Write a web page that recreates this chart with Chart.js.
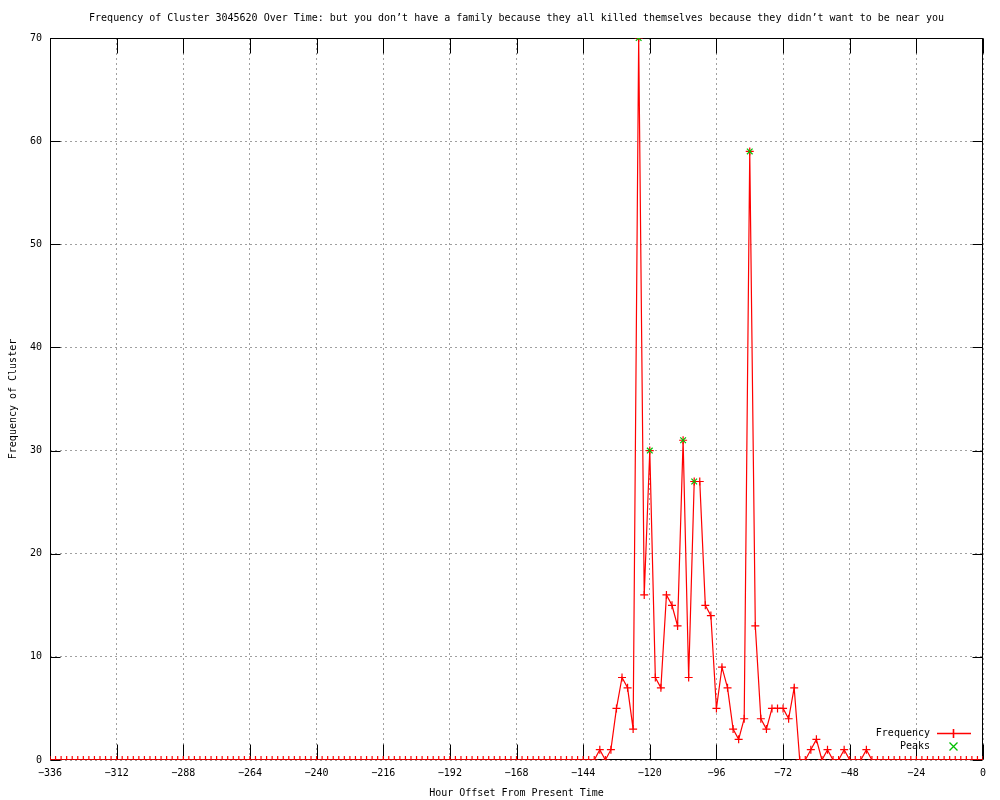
<!DOCTYPE html>
<html>
<head>
<meta charset="utf-8">
<script src="https://cdn.jsdelivr.net/npm/chart.js@4.4.1/dist/chart.umd.min.js"></script>
<style>
  html, body { margin: 0; padding: 0; background: #ffffff; }
  canvas { display: block; }
</style>
</head>
<body>
<canvas id="c" width="1000" height="800"></canvas>
<script>
// ---- data ----
const titleText = "Frequency of Cluster 3045620 Over Time: but you don\u2019t have a family because they all killed themselves because they didn\u2019t want to be near you";
const xAxisTitle = "Hour Offset From Present Time";
const yAxisTitle = "Frequency of Cluster";

const hours = [
  -336,-334,-332,-330,-328,-326,-324,-322,-320,-318,-316,-314,
  -312,-310,-308,-306,-304,-302,-300,-298,-296,-294,-292,-290,
  -288,-286,-284,-282,-280,-278,-276,-274,-272,-270,-268,-266,
  -264,-262,-260,-258,-256,-254,-252,-250,-248,-246,-244,-242,
  -240,-238,-236,-234,-232,-230,-228,-226,-224,-222,-220,-218,
  -216,-214,-212,-210,-208,-206,-204,-202,-200,-198,-196,-194,
  -192,-190,-188,-186,-184,-182,-180,-178,-176,-174,-172,-170,
  -168,-166,-164,-162,-160,-158,-156,-154,-152,-150,-148,-146,
  -144,-142,-140,-138,-136,-134,-132,-130,-128,-126,-124,-122,
  -120,-118,-116,-114,-112,-110,-108,-106,-104,-102,-100,-98,
  -96,-94,-92,-90,-88,-86,-84,-82,-80,-78,-76,-74,
  -72,-70,-68,-66,-64,-62,-60,-58,-56,-54,-52,-50,
  -48,-46,-44,-42,-40,-38,-36,-34,-32,-30,-28,-26,
  -24,-22,-20,-18,-16,-14,-12,-10,-8,-6,-4,-2,
  0
];
const frequency = [
  0,0,0,0,0,0,0,0,0,0,0,0,
  0,0,0,0,0,0,0,0,0,0,0,0,
  0,0,0,0,0,0,0,0,0,0,0,0,
  0,0,0,0,0,0,0,0,0,0,0,0,
  0,0,0,0,0,0,0,0,0,0,0,0,
  0,0,0,0,0,0,0,0,0,0,0,0,
  0,0,0,0,0,0,0,0,0,0,0,0,
  0,0,0,0,0,0,0,0,0,0,0,0,
  0,0,0,1,0,1,5,8,7,3,70,16,
  30,8,7,16,15,13,31,8,27,27,15,14,
  5,9,7,3,2,4,59,13,4,3,5,5,
  5,4,7,0,0,1,2,0,1,0,0,1,
  0,0,0,1,0,0,0,0,0,0,0,0,
  0,0,0,0,0,0,0,0,0,0,0,0,
  0
];
const peakHours = [-124, -120, -108, -104, -84];
const peakValues = [70, 30, 31, 27, 59];

const xTicks = [-336,-312,-288,-264,-240,-216,-192,-168,-144,-120,-96,-72,-48,-24,0];
const yTicks = [0,10,20,30,40,50,60,70];

const seriesNames = ['Frequency', 'Peaks'];

// ---- helpers ----
const FONT = "'DejaVu Sans Mono', 'Liberation Mono', monospace";
const RED = 'rgb(255, 0, 0)';
const GREEN = 'rgb(0, 192, 0)';
const toPts = (xs, ys) => xs.map((x, i) => ({x: x, y: ys[i]}));

const gnuplotFrame = {
  id: 'gnuplotFrame',
  beforeDatasetsDraw(chart) {
    const {ctx, chartArea: ca, scales} = chart;
    const L = Math.round(ca.left) + 0.5, R = Math.round(ca.right) - 0.5;
    const T = Math.round(ca.top) + 0.5, B = Math.round(ca.bottom) - 0.5;
    ctx.save();
    ctx.strokeStyle = '#000';
    ctx.lineWidth = 1;
    ctx.setLineDash([]);
    ctx.beginPath();
    xTicks.forEach(v => {
      const px = Math.round(scales.x.getPixelForValue(v)) + 0.5;
      ctx.moveTo(px, B); ctx.lineTo(px, B - 15);
      ctx.moveTo(px, T); ctx.lineTo(px, T + 15);
    });
    yTicks.forEach(v => {
      const py = Math.round(scales.y.getPixelForValue(v)) + 0.5;
      ctx.moveTo(L, py); ctx.lineTo(L + 10, py);
      ctx.moveTo(R, py); ctx.lineTo(R - 10, py);
    });
    ctx.stroke();
    ctx.strokeRect(L, T, R - L, B - T);
    ctx.restore();
  },
  afterDraw(chart) {
    const {ctx, chartArea: ca} = chart;
    ctx.save();
    ctx.setLineDash([]);
    ctx.font = '10px ' + FONT;
    ctx.textBaseline = 'middle';
    ctx.fillStyle = '#000000';
    ctx.textAlign = 'center';
    ctx.fillText(titleText, (ca.left + ca.right) / 2, 18);
    ctx.textAlign = 'right';
    ctx.fillText(seriesNames[0], 930, 733);
    ctx.fillText(seriesNames[1], 930, 746);
    ctx.restore();

    // legend samples
    ctx.save();
    ctx.setLineDash([]);
    ctx.lineWidth = 1.6;
    ctx.lineCap = 'butt';
    ctx.strokeStyle = RED;
    ctx.beginPath();
    ctx.moveTo(937, 733.5); ctx.lineTo(971, 733.5);
    ctx.moveTo(953.5, 729); ctx.lineTo(953.5, 738);
    ctx.stroke();
    ctx.lineWidth = 1.3;
    ctx.strokeStyle = GREEN;
    ctx.beginPath();
    ctx.moveTo(949.5, 742.5); ctx.lineTo(957.5, 750.5);
    ctx.moveTo(957.5, 742.5); ctx.lineTo(949.5, 750.5);
    ctx.stroke();
    ctx.restore();
  }
};

new Chart(document.getElementById('c'), {
  type: 'scatter',
  data: {
    datasets: [
      {
        label: seriesNames[0],
        data: toPts(hours, frequency),
        showLine: true,
        borderColor: RED,
        backgroundColor: RED,
        borderWidth: 1.2,
        pointStyle: 'cross',
        pointRadius: 4,
        pointBorderWidth: 1.2,
        pointBorderColor: RED,
        tension: 0,
        order: 1
      },
      {
        label: seriesNames[1],
        data: toPts(peakHours, peakValues),
        showLine: false,
        borderColor: GREEN,
        backgroundColor: GREEN,
        pointStyle: 'crossRot',
        pointRadius: 4,
        pointBorderWidth: 1.2,
        pointBorderColor: GREEN,
        order: 0
      }
    ]
  },
  options: {
    responsive: false,
    animation: false,
    devicePixelRatio: 1,
    layout: { padding: { left: 0, right: 17, top: 38, bottom: 0 } },
    plugins: {
      legend: { display: false },
      tooltip: { enabled: false },
      title: { display: false, text: titleText }
    },
    scales: {
      x: {
        type: 'linear',
        min: -336,
        max: 0,
        afterBuildTicks: (s) => { s.ticks = xTicks.map(v => ({value: v})); },
        afterFit: (s) => { s.height = 40; },
        ticks: {
          autoSkip: false,
          maxRotation: 0,
          padding: 7,
          color: '#000',
          font: { family: FONT, size: 10 },
          callback: (v) => String(v).replace('-', '\u2212')
        },
        grid: { color: '#a0a0a0', lineWidth: 1, drawTicks: false },
        border: { display: false, dash: [2, 3] },
        title: {
          display: true,
          text: xAxisTitle,
          color: '#000',
          font: { family: FONT, size: 10 },
          padding: { top: 0, bottom: 1 }
        }
      },
      y: {
        type: 'linear',
        min: 0,
        max: 70,
        afterBuildTicks: (s) => { s.ticks = yTicks.map(v => ({value: v})); },
        afterFit: (s) => { s.width = 50; },
        ticks: {
          padding: 8,
          color: '#000',
          font: { family: FONT, size: 10 },
          callback: (v) => String(v)
        },
        grid: { color: '#a0a0a0', lineWidth: 1, drawTicks: false },
        border: { display: false, dash: [2, 3] },
        title: {
          display: true,
          text: yAxisTitle,
          color: '#000',
          font: { family: FONT, size: 10 },
          padding: { top: 7, bottom: 0 }
        }
      }
    }
  },
  plugins: [gnuplotFrame]
});
</script>
</body>
</html>
